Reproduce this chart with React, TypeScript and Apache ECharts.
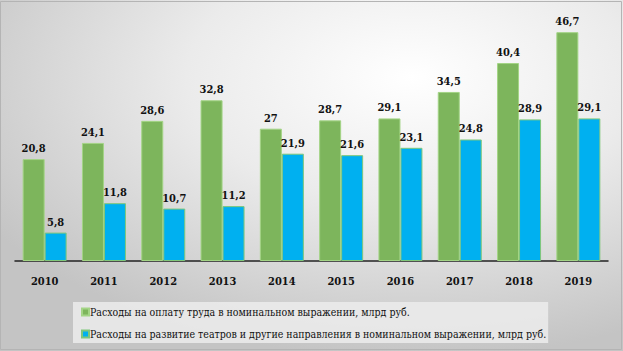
import React, { useEffect, useRef } from "react";
import * as echarts from "echarts";

const years = ["2010", "2011", "2012", "2013", "2014", "2015", "2016", "2017", "2018", "2019"];
const laborCosts = [20.8, 24.1, 28.6, 32.8, 27, 28.7, 29.1, 34.5, 40.4, 46.7];
const developmentCosts = [5.8, 11.8, 10.7, 11.2, 21.9, 21.6, 23.1, 24.8, 28.9, 29.1];
const seriesNames = [
  "Расходы на оплату труда в номинальном выражении, млрд руб.",
  "Расходы на развитие театров и другие направления в номинальном выражении, млрд руб.",
];

const serif = "DejaVu Serif Condensed";

export default function App() {
  const ref = useRef<HTMLDivElement>(null);
  useEffect(() => {
    if (!ref.current) return;
    const chart = echarts.init(ref.current, undefined, { renderer: "svg" });
    const fmt = (p: any) => String(p.value).replace(".", ",");
    const labelStyle = {
      show: true,
      position: "top",
      distance: 5,
      formatter: fmt,
      fontFamily: serif,
      fontWeight: "bold",
      fontSize: 11,
      color: "#111",
    };
    chart.setOption({
      animation: false,
      backgroundColor: {
        type: "radial",
        x: 0.66,
        y: 0.22,
        r: 0.8,
        colorStops: [
          { offset: 0, color: "#ffffff" },
          { offset: 0.45, color: "#ebebeb" },
          { offset: 1, color: "#c4c4c4" },
        ],
      },
      graphic: [
        {
          type: "rect",
          shape: { x: 0.5, y: 1.5, width: 621, height: 348 },
          style: { fill: "none", stroke: "#b4b4b4", lineWidth: 1 },
          silent: true,
        },
      ],
      grid: { left: 15, right: 15, top: 16, bottom: 90 },
      xAxis: {
        type: "category",
        data: years,
        axisLine: { lineStyle: { color: "#222", width: 1.5 } },
        axisTick: { show: false },
        axisLabel: {
          margin: 15,
          fontFamily: serif,
          fontWeight: "bold",
          fontSize: 11,
          color: "#111",
        },
      },
      yAxis: {
        type: "value",
        min: 0,
        max: 50,
        show: false,
        splitLine: { show: false },
      },
      legend: {
        orient: "vertical",
        left: 73,
        top: 302,
        itemWidth: 7,
        itemHeight: 7,
        itemGap: 8,
        icon: "rect",
        padding: [3, 2, 2, 8],
        backgroundColor: "rgba(236,236,236,0.85)",
        textStyle: {
          fontFamily: serif,
          fontSize: 10.5,
          lineHeight: 14,
          color: "#111",
          padding: [0, 0, 0, -4],
        },
        data: seriesNames,
      },
      series: [
        {
          name: seriesNames[0],
          type: "bar",
          data: laborCosts,
          barWidth: 22,
          barGap: "0%",
          itemStyle: { color: "#7db55c", borderColor: "#a3d485", borderWidth: 1 },
          label: labelStyle,
        },
        {
          name: seriesNames[1],
          type: "bar",
          data: developmentCosts,
          barWidth: 22,
          itemStyle: { color: "#00b0f0", borderColor: "#7fc77a", borderWidth: 1 },
          label: labelStyle,
        },
      ],
    });
    return () => chart.dispose();
  }, []);
  return (
    <div
      ref={ref}
      style={{ position: "absolute", left: 0, top: 0, width: 623, height: 351 }}
    />
  );
}
